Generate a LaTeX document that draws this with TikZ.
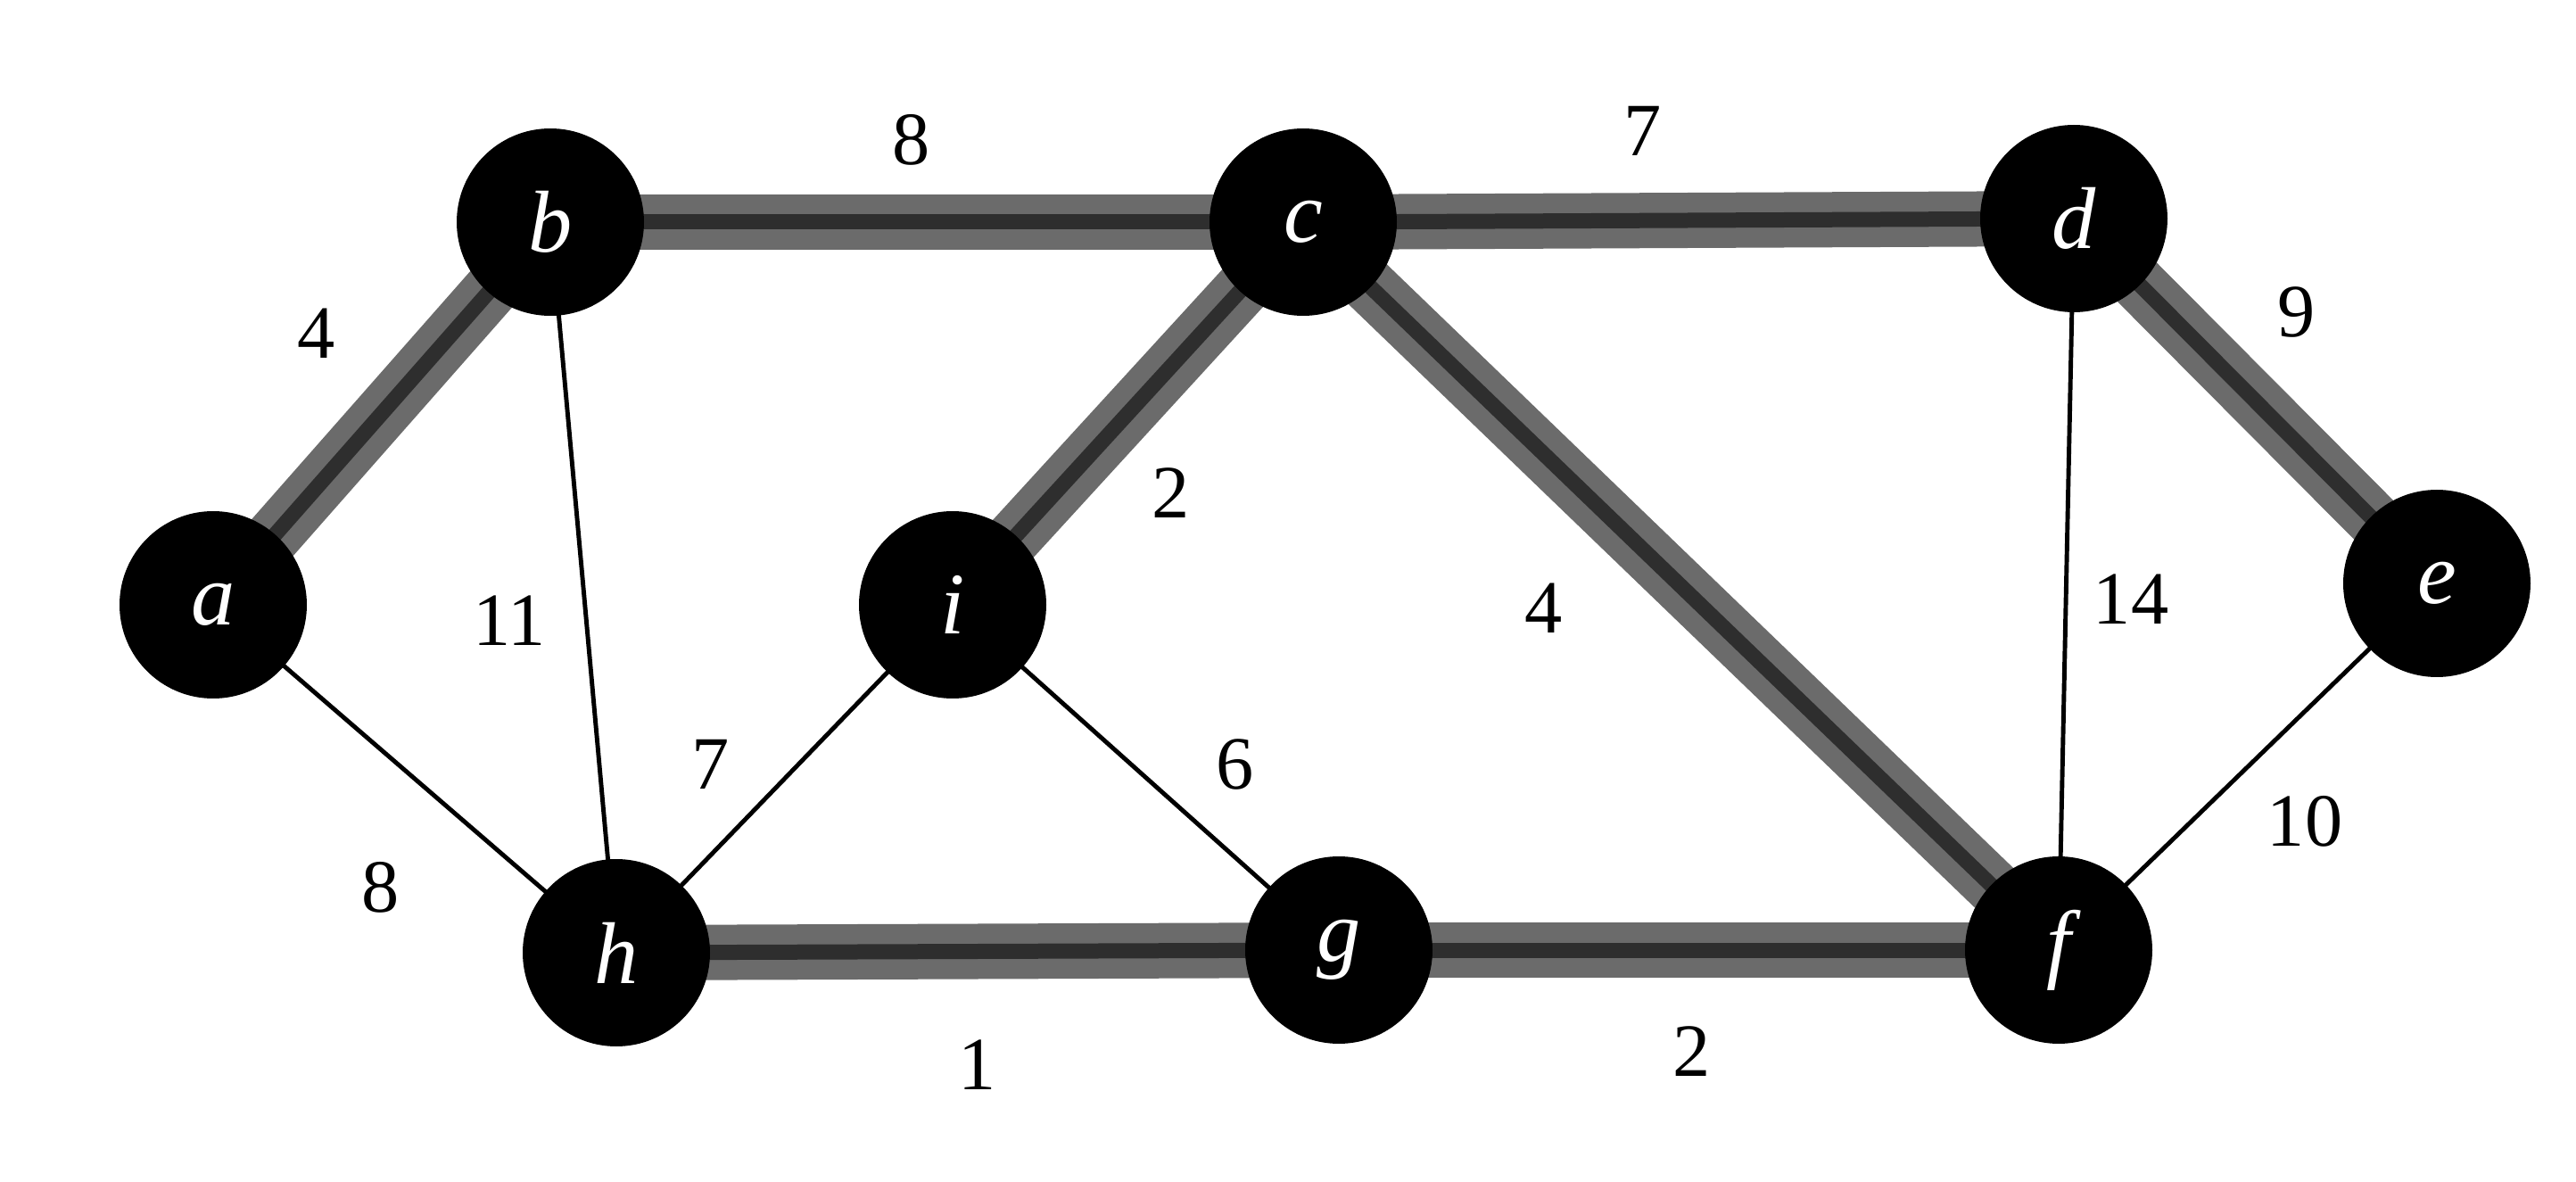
\documentclass[tikz,border=0pt]{standalone}
\usepackage{fontspec}
\setmainfont{Liberation Serif}
\usetikzlibrary{backgrounds}
\tikzset{
  vtx/.style={circle, fill=black, minimum size=2.1cm, inner sep=0pt,
    text=white, font=\fontsize{28}{32}\selectfont\itshape},
  thinedge/.style={line width=1.4pt, black},
  treeband/.style={line width=0.62cm, black!58},
  treecore/.style={line width=0.17cm, black!82},
  wt/.style={font=\fontsize{24}{28}\selectfont},
}
\begin{document}
\begin{tikzpicture}
    \useasboundingbox (0,0) rectangle (28.88,13.24);
    % Vertices
    \node[vtx] (a) at (2.39,6.46) {a};
    \node[vtx] (b) at (6.17,10.75) {b};
    \node[vtx] (c) at (14.61,10.75) {c};
    \node[vtx] (d) at (23.25,10.79) {d};
    \node[vtx] (e) at (27.32,6.70) {e};
    \node[vtx] (f) at (23.08,2.59) {f};
    \node[vtx] (g) at (15.01,2.59) {g};
    \node[vtx] (h) at (6.91,2.56) {h};
    \node[vtx] (i) at (10.68,6.46) {i};
    \begin{scope}[on background layer]
    % Edges of the spanning tree
    \foreach \u/\v in {a/b,b/c,c/d,d/e,c/i,c/f,h/g,g/f}{
      \draw[treeband] (\u.center) -- (\v.center);
      \draw[treecore] (\u.center) -- (\v.center);
    }
    % Other edges
    \foreach \u/\v in {a/h,b/h,h/i,i/g,d/f,e/f}{
      \draw[thinedge] (\u.center) -- (\v.center);
    }
    \end{scope}
    % Weights
    \node[wt] (wab) at (3.55,9.50) {4};
    \node[wt] (wbc) at (10.22,11.67) {8};
    \node[wt] (wcd) at (18.42,11.77) {7};
    \node[wt] (wde) at (25.75,9.74) {9};
    \node[wt] (wbh) at (5.71,6.28) {11};
    \node[wt] (wci) at (13.13,7.71) {2};
    \node[wt] (wcf) at (17.31,6.42) {4};
    \node[wt] (wdf) at (23.89,6.52) {14};
    \node[wt] (wef) at (25.84,4.03) {10};
    \node[wt] (wah) at (4.27,3.29) {8};
    \node[wt] (whi) at (7.97,4.67) {7};
    \node[wt] (wig) at (13.85,4.67) {6};
    \node[wt] (whg) at (10.96,1.30) {1};
    \node[wt] (wgf) at (18.97,1.45) {2};
\end{tikzpicture}
\end{document}
